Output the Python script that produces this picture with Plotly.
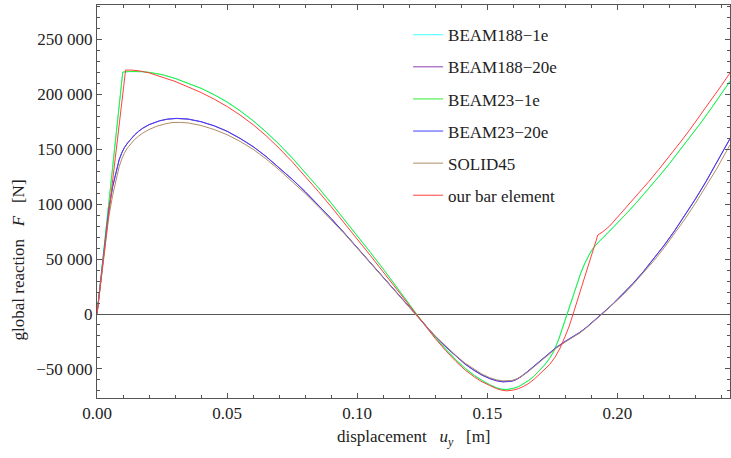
import plotly.graph_objects as go

# ---- data: displacement u_y [m] and global reaction F [N] per element model ----
# one-element beam models (BEAM23 / BEAM188) share their displacement stations
u_1e = [0, 0.0099, 0.0125, 0.015, 0.0175, 0.020, 0.025, 0.030, 0.035, 0.040, 0.045, 0.050, 0.055, 0.060,
        0.065, 0.070, 0.075, 0.080, 0.085, 0.090, 0.095, 0.100, 0.105, 0.110, 0.115, 0.120, 0.1228,
        0.126, 0.130, 0.134, 0.138, 0.1415, 0.145, 0.148, 0.151, 0.1535, 0.1555, 0.1575, 0.160, 0.162,
        0.164, 0.166, 0.168, 0.170, 0.172, 0.174, 0.1755, 0.1775, 0.179, 0.1807, 0.1825, 0.1845, 0.186,
        0.1875, 0.1885, 0.1895, 0.1907, 0.193, 0.196, 0.200, 0.204, 0.208, 0.212, 0.216, 0.220, 0.224,
        0.228, 0.232, 0.236, 0.240, 0.2433]
beam23_1e_F = [0, 220400, 220900, 221000, 220700, 220100, 218000, 214600, 210200, 205500, 199700, 193000,
               185000, 176000, 165700, 154500, 142200, 129000, 115200, 101000, 86400, 71500, 56300, 41000,
               25500, 9000, 0, -10000, -21500, -32000, -42000, -49500, -56000, -60500, -64600, -67200, -68500,
               -68800, -67800, -66200, -63700, -60500, -56600, -52000, -46600, -40300, -34500, -23000, -12000,
               0, 13500, 27500, 37500, 46000, 51000, 55300, 59800, 66000, 73000, 82700, 92700, 103200, 114000,
               125200, 136800, 148800, 161100, 173800, 187000, 200500, 211900]
beam188_1e_F = [0, 220000, 220700, 220900, 220600, 220000, 217900, 214500, 210300, 205600, 199800, 193200,
                185200, 176200, 165900, 154700, 142300, 129100, 115300, 101100, 86500, 71600, 56400, 41100,
                25600, 9100, 0, -10100, -21400, -31900, -41800, -49300, -55800, -60300, -64400, -67000, -68300,
                -68600, -67700, -66100, -63600, -60400, -56500, -51900, -46400, -40000, -34000, -22500, -11500,
                500, 14000, 28000, 38000, 46500, 51500, 55700, 60000, 66200, 73100, 82800, 92800, 103300,
                114100, 125300, 136900, 148900, 161200, 173900, 187100, 200600, 212000]

# twenty-element beam models share their displacement stations as well
u_20e = [0, 0.0045, 0.006, 0.0074, 0.0085, 0.0095, 0.0105, 0.0118, 0.013, 0.0145, 0.016, 0.0176, 0.020,
         0.022, 0.024, 0.027, 0.0305, 0.035, 0.040, 0.045, 0.050, 0.055, 0.060, 0.065, 0.070, 0.075, 0.080,
         0.085, 0.090, 0.095, 0.100, 0.105, 0.110, 0.115, 0.1222, 0.126, 0.130, 0.134, 0.138, 0.1415, 0.145,
         0.148, 0.151, 0.1535, 0.156, 0.158, 0.1595, 0.161, 0.163, 0.1655, 0.168, 0.1702, 0.1735, 0.1766,
         0.180, 0.183, 0.1856, 0.188, 0.191, 0.1939, 0.198, 0.202, 0.206, 0.210, 0.214, 0.218, 0.222, 0.226,
         0.230, 0.234, 0.238, 0.2433]
beam23_20e_F = [0, 95000, 116000, 131000, 140500, 146800, 151500, 156000, 159700, 163300, 166500, 169300,
                172500, 174600, 176000, 177500, 178200, 177600, 175200, 171500, 166500, 160000, 152500, 143500,
                133500, 122800, 111500, 99500, 87000, 74000, 60500, 46800, 33000, 19500, 0, -10200, -20300,
                -29800, -38500, -45500, -51300, -55500, -58700, -60600, -61600, -61600, -61000, -59700, -56900,
                -52300, -47400, -42800, -36000, -30200, -24800, -20600, -16600, -12300, -6400, 0, 8600, 17800,
                27900, 38700, 50300, 62700, 75900, 90000, 104800, 120400, 136800, 159800]
beam188_20e_F = [0, 94500, 115600, 130600, 140200, 146500, 151300, 155800, 159500, 163100, 166300, 169100,
                 172300, 174400, 175800, 177300, 178000, 177400, 175000, 171300, 166300, 159800, 152300, 143300,
                 133300, 122600, 111300, 99300, 86800, 73800, 60300, 46600, 32800, 19300, 0, -10300, -20500,
                 -30000, -38700, -45800, -51600, -55800, -59000, -60900, -61900, -61900, -61300, -60000, -57200,
                 -52600, -47700, -43100, -36300, -30500, -25100, -20900, -16900, -12600, -6700, -300, 8300,
                 17500, 27600, 38400, 50000, 62400, 75600, 89700, 104500, 120100, 136500, 159500]

solid45_u = [0, 0.0045, 0.006, 0.0074, 0.0085, 0.0095, 0.0105, 0.0118, 0.013, 0.0145, 0.016, 0.0176, 0.020,
             0.023, 0.026, 0.0288, 0.032, 0.035, 0.040, 0.045, 0.050, 0.055, 0.060, 0.065, 0.070, 0.075, 0.080,
             0.085, 0.090, 0.095, 0.100, 0.105, 0.110, 0.115, 0.1222, 0.126, 0.130, 0.134, 0.138, 0.1415,
             0.145, 0.148, 0.151, 0.1535, 0.156, 0.158, 0.1595, 0.161, 0.163, 0.1655, 0.168, 0.1702, 0.1735,
             0.1766, 0.180, 0.183, 0.1856, 0.188, 0.191, 0.1942, 0.198, 0.202, 0.206, 0.210, 0.214, 0.218,
             0.222, 0.226, 0.230, 0.234, 0.238, 0.2433]
solid45_F = [0, 88000, 108000, 124000, 134000, 141000, 146500, 151500, 155300, 159000, 162000, 164800, 168000,
             171000, 173000, 174300, 174500, 174000, 171700, 168000, 163300, 157200, 150000, 141200, 131300,
             120800, 109800, 98000, 86000, 73300, 60000, 46500, 32800, 19400, 0, -10000, -20000, -29300,
             -37900, -44800, -50600, -54800, -58000, -59900, -60900, -61000, -60500, -59400, -57000, -53000,
             -48200, -43600, -36800, -31000, -25500, -21200, -17200, -12800, -6900, 0, 8200, 17000, 26800,
             37200, 48400, 60300, 73000, 86500, 100800, 115800, 131500, 154000]

bar_u = [0, 0.011, 0.0135, 0.016, 0.020, 0.025, 0.030, 0.035, 0.040, 0.045, 0.050, 0.055, 0.060, 0.065, 0.070,
         0.075, 0.080, 0.085, 0.090, 0.095, 0.100, 0.105, 0.110, 0.115, 0.120, 0.1225, 0.126, 0.130, 0.134,
         0.138, 0.1415, 0.145, 0.148, 0.151, 0.1535, 0.1555, 0.1575, 0.160, 0.162, 0.164, 0.166, 0.168, 0.170,
         0.172, 0.174, 0.176, 0.178, 0.180, 0.1815, 0.183, 0.1855, 0.188, 0.1905, 0.1925, 0.1945, 0.197,
         0.200, 0.204, 0.208, 0.212, 0.216, 0.220, 0.224, 0.228, 0.232, 0.236, 0.240, 0.2433]
bar_F = [0, 222200, 222100, 221500, 219600, 216000, 211800, 206800, 201700, 195700, 189000, 181200, 172400,
         162300, 151000, 138700, 125500, 111800, 97700, 83200, 68500, 53500, 38300, 22900, 7500, 0, -10500,
         -22300, -33300, -43300, -51000, -57300, -61800, -65400, -67900, -69400, -70000, -69300, -68000,
         -65900, -63100, -59500, -55200, -51000, -46000, -39500, -31000, -20000, -11000, 0, 18500, 37000,
         56500, 71900, 75000, 80000, 88000, 98500, 109300, 120400, 131800, 143600, 155800, 168300, 181200,
         194500, 208100, 219500]

series = [
    ("BEAM188\u22121e", u_1e, beam188_1e_F, "#40ffff"),
    ("BEAM188\u221220e", u_20e, beam188_20e_F, "#9040b0"),
    ("BEAM23\u22121e", u_1e, beam23_1e_F, "#30f030"),
    ("BEAM23\u221220e", u_20e, beam23_20e_F, "#4040ff"),
    ("SOLID45", solid45_u, solid45_F, "#b08c68"),
    ("our bar element", bar_u, bar_F, "#ff4040"),
]

x_ticks = [0.0, 0.05, 0.10, 0.15, 0.20]
x_ticklabels = ["0.00", "0.05", "0.10", "0.15", "0.20"]
y_ticks = [-50000, 0, 50000, 100000, 150000, 200000, 250000]
y_ticklabels = ["\u221250 000", "0", "50 000", "100 000", "150 000", "200 000", "250 000"]

SERIF = "Liberation Serif, Times New Roman, serif"
FRAME = "#555555"
TEXT = "#222222"

fig = go.Figure()
for i, (name, u, f, color) in enumerate(series):
    fig.add_trace(go.Scatter(
        x=u, y=f, mode="lines", name=name, legendgroup=f"g{i}",
        line=dict(color=color, width=1),
    ))

fig.update_layout(
    width=731, height=458,
    margin=dict(l=97, r=1, t=5, b=60),
    paper_bgcolor="white", plot_bgcolor="white",
    font=dict(family=SERIF, size=17, color=TEXT),
    showlegend=True,
    legend=dict(
        x=0.4915, y=0.969, xanchor="left", yanchor="top",
        bgcolor="rgba(0,0,0,0)", tracegroupgap=7,
        font=dict(family=SERIF, size=17, color=TEXT),
    ),
    xaxis=dict(
        range=[0, 0.2433], tickmode="array", tickvals=x_ticks, ticktext=x_ticklabels,
        ticks="inside", ticklen=5, tickcolor=FRAME, tickwidth=1,
        showline=True, linecolor=FRAME, linewidth=1, mirror="ticks",
        showgrid=False, zeroline=False,
        minor=dict(tickmode="linear", tick0=0, dtick=0.01, ticks="inside", ticklen=3, tickcolor=FRAME),
        tickfont=dict(family=SERIF, size=17, color=TEXT),
    ),
    yaxis=dict(
        range=[-76500, 281400], tickmode="array", tickvals=y_ticks, ticktext=y_ticklabels,
        ticks="inside", ticklen=5, tickcolor=FRAME, tickwidth=1,
        showline=True, linecolor=FRAME, linewidth=1, mirror="ticks",
        showgrid=False, zeroline=True, zerolinecolor="#555555", zerolinewidth=1,
        minor=dict(tickmode="linear", tick0=0, dtick=10000, ticks="inside", ticklen=3, tickcolor=FRAME),
        tickfont=dict(family=SERIF, size=17, color=TEXT),
    ),
    annotations=[
        dict(text="displacement\u2002 <i>u</i><sub><i>y</i></sub>\u2002 [m]",
             xref="paper", yref="paper", x=0.5, y=-0.1018, xanchor="center", yanchor="middle",
             showarrow=False, font=dict(family=SERIF, size=17, color=TEXT)),
        dict(text="global reaction\u2002 <i>F</i>\u2002 [N]", textangle=-90,
             xref="paper", yref="paper", x=-0.1248, y=0.35, xanchor="center", yanchor="middle",
             showarrow=False, font=dict(family=SERIF, size=17, color=TEXT)),
    ],
)

fig.write_html("out.html")
